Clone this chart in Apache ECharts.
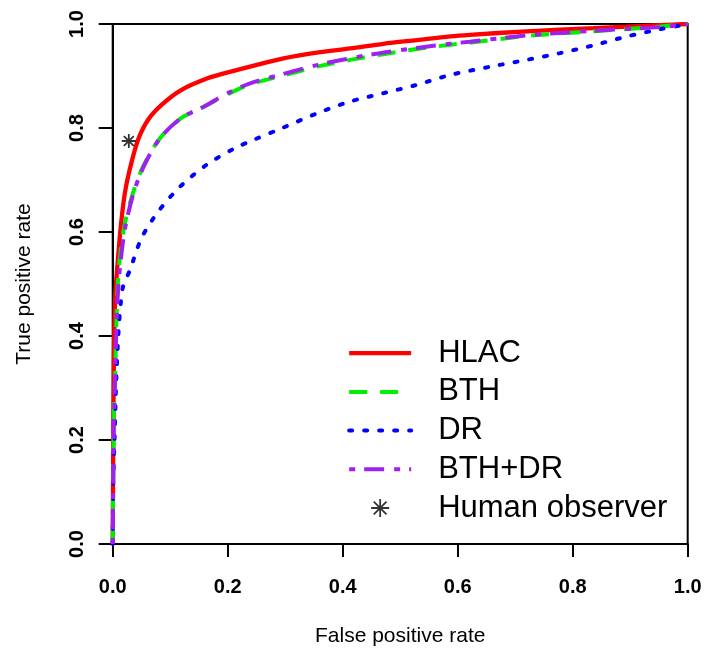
<!DOCTYPE html>
<html>
<head>
<meta charset="utf-8">
<script src="https://cdn.jsdelivr.net/npm/echarts@6/dist/echarts.min.js"></script>
<style>
html,body{margin:0;padding:0;background:#fff;}
#chart{width:706px;height:649px;}
</style>
</head>
<body>
<div id="chart"></div>
<script>
// ---- data ----
var seriesNames = ['HLAC', 'BTH', 'DR', 'BTH+DR', 'Human observer'];
var xTicks = [0, 0.2, 0.4, 0.6, 0.8, 1.0];
var yTicks = [0, 0.2, 0.4, 0.6, 0.8, 1.0];

var hlacFPR = [0, 0.001, 0.002, 0.003, 0.0045, 0.009, 0.014, 0.021, 0.030, 0.044, 0.061, 0.0845, 0.119, 0.166, 0.200, 0.239, 0.297, 0.355, 0.413, 0.471, 0.529, 0.587, 0.621, 0.720, 0.836, 0.952, 1.0];
var hlacTPR = [0, 0.200, 0.350, 0.420, 0.480, 0.546, 0.610, 0.674, 0.722, 0.777, 0.815, 0.844, 0.873, 0.896, 0.907, 0.918, 0.934, 0.945, 0.953, 0.962, 0.969, 0.976, 0.979, 0.986, 0.992, 0.998, 1.0];

var bthFPR = [0, 0.001, 0.002, 0.004, 0.006, 0.008, 0.012, 0.020, 0.035, 0.053, 0.082, 0.119, 0.160, 0.200, 0.239, 0.297, 0.355, 0.413, 0.471, 0.529, 0.587, 0.621, 0.720, 0.836, 0.952, 1.0];
var bthTPR = [0, 0.150, 0.250, 0.310, 0.406, 0.482, 0.546, 0.610, 0.674, 0.726, 0.780, 0.819, 0.842, 0.865, 0.884, 0.901, 0.918, 0.931, 0.942, 0.952, 0.960, 0.964, 0.977, 0.986, 0.995, 1.0];

var drFPR = [0, 0.001, 0.0035, 0.006, 0.010, 0.014, 0.018, 0.030, 0.050, 0.079, 0.117, 0.163, 0.212, 0.247, 0.297, 0.355, 0.413, 0.471, 0.529, 0.587, 0.662, 0.720, 0.778, 0.836, 0.894, 0.952, 0.987, 1.0];
var drTPR = [0, 0.120, 0.213, 0.310, 0.406, 0.463, 0.495, 0.527, 0.588, 0.639, 0.687, 0.729, 0.761, 0.778, 0.801, 0.828, 0.851, 0.867, 0.883, 0.902, 0.919, 0.931, 0.944, 0.959, 0.976, 0.990, 0.997, 1.0];

var bthdrFPR = [0, 0.001, 0.002, 0.004, 0.006, 0.009, 0.014, 0.022, 0.036, 0.054, 0.082, 0.119, 0.160, 0.200, 0.239, 0.297, 0.355, 0.413, 0.471, 0.529, 0.587, 0.621, 0.720, 0.836, 0.952, 1.0];
var bthdrTPR = [0, 0.140, 0.240, 0.310, 0.400, 0.482, 0.546, 0.610, 0.674, 0.726, 0.780, 0.819, 0.842, 0.867, 0.886, 0.904, 0.921, 0.934, 0.945, 0.954, 0.962, 0.966, 0.978, 0.987, 0.994, 1.0];

var humanFPR = [0.028];
var humanTPR = [0.775];

function pairs(xs, ys) { return xs.map(function (x, i) { return [x, ys[i]]; }); }

var FONT = 'Liberation Sans, Arial, Helvetica, sans-serif';
var ASTERISK = 'path://M0,-10L0,10M-10,0L10,0M-7.07,-7.07L7.07,7.07M-7.07,7.07L7.07,-7.07';

var styles = [
  { color: '#ff0000', width: 4.3, type: 'solid', cap: 'butt' },
  { color: '#00ee00', width: 4, type: [18, 13], cap: 'butt' },
  { color: '#0000ff', width: 4, type: [3, 12], cap: 'round' },
  { color: '#a020f0', width: 4, type: [6, 9, 20, 10], cap: 'butt' }
];

var chart = echarts.init(document.getElementById('chart'), null, { renderer: 'canvas' });

var lineSeries = [hlacFPR, bthFPR, drFPR, bthdrFPR].map(function (xs, i) {
  var ys = [hlacTPR, bthTPR, drTPR, bthdrTPR][i];
  return {
    type: 'line', name: seriesNames[i], data: pairs(xs, ys),
    showSymbol: false, symbol: 'none', smooth: 0.3, animation: false, z: 2,
    color: styles[i].color,
    lineStyle: { color: styles[i].color, width: styles[i].width, type: styles[i].type, cap: styles[i].cap }
  };
});

var legendData = seriesNames.map(function (n, i) {
  if (i < 4) {
    return { name: n, itemStyle: { opacity: 0 },
      lineStyle: { color: styles[i].color, width: styles[i].width, type: styles[i].type, cap: styles[i].cap } };
  }
  return { name: n, icon: ASTERISK, itemStyle: { color: 'rgba(0,0,0,0)', borderColor: '#000', borderWidth: 1.8 } };
});

var option = {
  animation: false,
  backgroundColor: '#ffffff',
  grid: { left: 112.7, right: 18.3, top: 24, bottom: 105, show: true, borderColor: '#000', borderWidth: 2, containLabel: false },
  xAxis: {
    type: 'value', min: 0, max: 1, interval: 0.2,
    axisLine: { show: true, onZero: false, lineStyle: { color: '#000', width: 2 } },
    axisTick: { show: true, inside: false, length: 13, lineStyle: { color: '#000', width: 2 } },
    axisLabel: { color: '#000', fontSize: 20, fontWeight: 'bold', fontFamily: FONT, margin: 33,
      formatter: function (v) { return v.toFixed(1); } },
    splitLine: { show: false }
  },
  yAxis: {
    type: 'value', min: 0, max: 1, interval: 0.2,
    axisLine: { show: true, onZero: false, lineStyle: { color: '#000', width: 2 } },
    axisTick: { show: true, inside: false, length: 14, lineStyle: { color: '#000', width: 2 } },
    axisLabel: { color: '#000', fontSize: 20, fontWeight: 'bold', fontFamily: FONT, margin: 25, rotate: 90,
      formatter: function (v) { return v.toFixed(1); } },
    splitLine: { show: false }
  },
  legend: {
    orient: 'vertical', left: 347, top: 337.7, padding: 0,
    itemWidth: 62, itemHeight: 18, itemGap: 7.7,
    data: legendData,
    textStyle: { color: '#000', fontSize: 31, fontFamily: FONT, lineHeight: 31, padding: [0, 0, 0, 22] },
    selectedMode: false
  },
  graphic: [
    { type: 'text', x: 400.2, y: 636, style: { text: 'False positive rate', font: '21px ' + FONT, fill: '#000', textAlign: 'center', textVerticalAlign: 'middle' } },
    { type: 'text', rotation: Math.PI / 2, x: 24.6, y: 284, style: { text: 'True positive rate', font: '21px ' + FONT, fill: '#000', textAlign: 'center', textVerticalAlign: 'middle' } }
  ],
  series: lineSeries.concat([
    { type: 'scatter', name: seriesNames[4], data: pairs(humanFPR, humanTPR), symbol: ASTERISK, symbolSize: 14,
      symbolKeepAspect: true, animation: false, z: 5,
      itemStyle: { color: 'rgba(0,0,0,0)', borderColor: '#000', borderWidth: 1.8 } }
  ])
};
chart.setOption(option);
</script>
</body>
</html>
